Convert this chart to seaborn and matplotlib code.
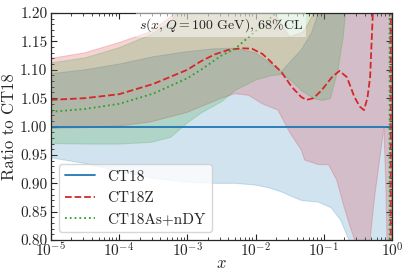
import numpy as np
import pandas as pd
import matplotlib
matplotlib.use('Agg')
import matplotlib.pyplot as plt
from matplotlib.ticker import MultipleLocator, LogLocator, NullFormatter
import seaborn as sns

# central curves (log10 x, ratio to CT18)
ct18_logx = [-5.0, -0.02]
ct18_val = [1.0, 1.0]

ct18z_logx = [-5.0, -4.5, -4.0, -3.5, -3.0, -2.8, -2.6, -2.4, -2.2, -2.05, -1.9, -1.8,
              -1.62, -1.47, -1.33, -1.25, -1.15, -1.03, -0.88, -0.77, -0.66, -0.55,
              -0.47, -0.41, -0.36, -0.32, -0.28, -0.2, -0.1, -0.02, -0.015, 0.0]
ct18z_val = [1.047, 1.050, 1.057, 1.075, 1.100, 1.115, 1.127, 1.135, 1.138, 1.137, 1.128, 1.117,
             1.096, 1.070, 1.052, 1.047, 1.050, 1.064, 1.087, 1.098, 1.087, 1.052,
             1.035, 1.029, 1.050, 1.087, 1.200, 1.500, 2.500, 4.000, -4.000, -4.000]

ct18as_logx = [-5.0, -4.5, -4.0, -3.5, -3.0, -2.8, -2.5, -2.3, -2.0, -1.7, -1.4, -1.0,
               -0.5, -0.035, -0.03, 0.0]
ct18as_val = [1.026, 1.031, 1.040, 1.058, 1.085, 1.100, 1.125, 1.137, 1.168, 1.200, 1.250, 1.350,
              1.500, 2.000, -4.000, -4.000]

# 68% CL bands
ct18_band_logx = [-5.0, -4.5, -4.0, -3.5, -3.0, -2.6, -2.3, -2.0, -1.8, -1.62, -1.47, -1.33,
                  -1.18, -1.08, -0.89, -0.75, -0.63, -0.5, 0.0]
ct18_lo = [0.945, 0.935, 0.921, 0.909, 0.902, 0.900, 0.900, 0.897, 0.892, 0.885, 0.877, 0.870,
           0.868, 0.867, 0.857, 0.835, 0.800, 0.750, 0.600]
ct18_hi = [1.093, 1.100, 1.110, 1.123, 1.132, 1.137, 1.138, 1.130, 1.113, 1.097, 1.117, 1.135,
           1.165, 1.200, 1.300, 1.400, 1.400, 1.400, 1.400]

ct18z_band_logx = [-5.0, -4.5, -4.0, -3.54, -3.0, -2.8, -2.5, -2.3, -2.1, -1.9, -1.67, -1.5,
                   -1.33, -1.28, -1.08, -0.93, -0.81, -0.71, -0.62, -0.546, -0.45, -0.34,
                   -0.25, -0.16, -0.118, -0.09, -0.07, 0.0]
ct18z_lo = [0.997, 0.998, 1.001, 1.008, 1.025, 1.035, 1.050, 1.058, 1.055, 1.040, 1.029, 0.990,
            0.959, 0.941, 0.933, 0.933, 0.906, 0.862, 0.826, 0.800, 0.750, 0.780,
            0.880, 0.960, 0.998, 0.900, 0.780, 0.600]
ct18z_hi = [1.120, 1.130, 1.148, 1.167, 1.215, 1.240, 1.260, 1.260, 1.250, 1.230, 1.190, 1.158,
            1.165, 1.170, 1.215, 1.280, 1.350, 1.400, 1.450, 1.500, 1.500, 1.500,
            1.500, 1.500, 1.500, 1.500, 1.500, 1.500]

ct18as_band_logx = [-5.0, -4.5, -4.0, -3.54, -3.25, -3.0, -2.8, -2.5, -2.3, -2.0, -1.8, -1.62,
                    -1.47, -1.33, -1.15, -1.03, -0.91, -0.8, -0.72, -0.68, -0.5, 0.0]
ct18as_lo = [0.971, 0.970, 0.970, 0.973, 0.982, 1.008, 1.025, 1.045, 1.065, 1.083, 1.090, 1.093,
             1.080, 1.064, 1.050, 1.047, 1.050, 1.100, 1.160, 1.210, 1.400, 1.400]
ct18as_hi = [1.113, 1.122, 1.140, 1.163, 1.185, 1.230, 1.260, 1.300, 1.320, 1.350, 1.380, 1.400,
             1.400, 1.400, 1.400, 1.400, 1.400, 1.400, 1.400, 1.400, 1.400, 1.400]

labels = ['CT18', 'CT18Z', 'CT18As+nDY']
colors = ['#1f77b4', '#d62728', '#2ca02c']

sns.set_theme(style='ticks')
plt.rcParams['font.family'] = 'serif'
plt.rcParams['font.serif'] = ['cmr10']
plt.rcParams['mathtext.fontset'] = 'cm'
plt.rcParams['axes.formatter.use_mathtext'] = True
plt.rcParams['font.size'] = 10

fig, ax = plt.subplots(figsize=(4.07, 2.71), dpi=100)
fig.subplots_adjust(left=0.125, right=0.963, bottom=0.114, top=0.952)

bands = [(ct18_band_logx, ct18_lo, ct18_hi),
         (ct18z_band_logx, ct18z_lo, ct18z_hi),
         (ct18as_band_logx, ct18as_lo, ct18as_hi)]
for (lx, lo, hi), c in zip(bands, colors):
    ax.fill_between(10 ** np.array(lx), lo, hi, color=c, alpha=0.2, lw=0.8)

lines = [(ct18_logx, ct18_val, '-'), (ct18z_logx, ct18z_val, '--'), (ct18as_logx, ct18as_val, ':')]
for (lx, v, ls), c, lab in zip(lines, colors, labels):
    df = pd.DataFrame({'x': 10 ** np.array(lx), 'ratio': v})
    sns.lineplot(data=df, x='x', y='ratio', ax=ax, color=c, linestyle=ls, lw=1.3,
                 label=lab, sort=False, estimator=None)

ax.set_xscale('log')
ax.set_xlim(1e-5, 1)
ax.set_ylim(0.8, 1.2)
ax.yaxis.set_major_locator(MultipleLocator(0.05))
ax.yaxis.set_minor_locator(MultipleLocator(0.01))
ax.yaxis.set_major_formatter(matplotlib.ticker.FormatStrFormatter('%.2f'))
ax.xaxis.set_major_locator(LogLocator(base=10, numticks=10))
ax.xaxis.set_minor_locator(LogLocator(base=10, subs=np.arange(2, 10), numticks=20))
ax.xaxis.set_minor_formatter(NullFormatter())
ax.tick_params(which='both', direction='in', top=True, right=True)
ax.tick_params(axis='y', pad=2.5)
ax.tick_params(axis='x', pad=1)
ax.tick_params(which='major', length=4, width=0.8)
ax.tick_params(which='minor', length=2, width=0.6)
for s in ax.spines.values():
    s.set_linewidth(0.9)

ax.set_xlabel('$x$')
ax.xaxis.set_label_coords(0.5, -0.07)
ax.set_ylabel('Ratio to CT18', labelpad=2)
ax.text(0.5, 0.947, r'$s(x, Q=100~\mathrm{GeV})$, 68%CL', transform=ax.transAxes,
        ha='center', va='center',
        bbox=dict(facecolor='white', edgecolor='none', alpha=0.5, pad=2))
ax.legend(loc='lower left', frameon=True, fancybox=True, framealpha=0.8, handlelength=2.0)

fig.savefig('out.png', dpi=100)
